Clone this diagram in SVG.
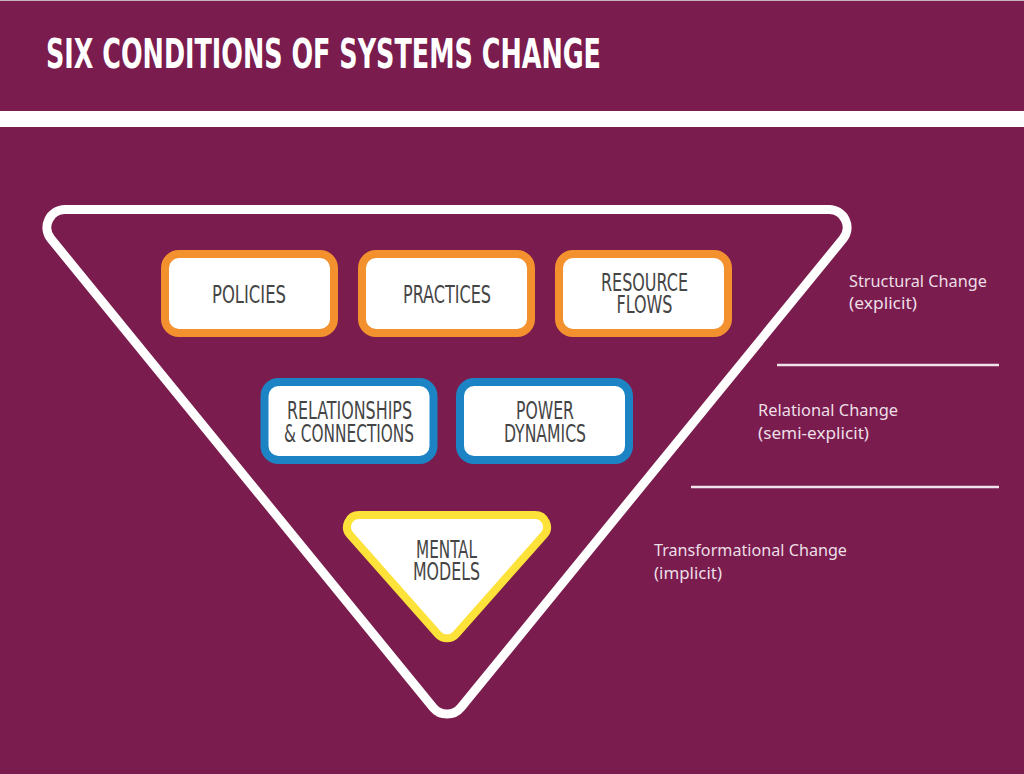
<svg xmlns="http://www.w3.org/2000/svg" width="1024" height="774" viewBox="0 0 1024 774">
<style>
.bg{fill:#7a1c4e}
.box{fill:#ffffff;stroke-width:8}
.orange{stroke:#f4912f}
.blue{stroke:#1c84c4}
.yellow{stroke:#fde23a;stroke-linejoin:round}
.lbl{font-family:"DejaVu Sans Condensed","DejaVu Sans","Liberation Sans",sans-serif;font-size:24px;fill:#454545;text-anchor:middle}
.side{font-family:"Noto Sans","Open Sans","Liberation Sans",sans-serif;font-size:17px;fill:#eddfe6}
.title{font-family:"DejaVu Sans Condensed","DejaVu Sans","Liberation Sans",sans-serif;font-size:41px;font-weight:bold;fill:#ffffff}
.rule{stroke:#efe4ea;stroke-width:2.5}
</style>
<rect class="bg" x="0" y="0" width="1024" height="774"/>
<rect x="0" y="0" width="1024" height="1" fill="#c8b3bf"/>
<rect x="0" y="111" width="1024" height="16" fill="#ffffff"/>
<text class="title" x="46" y="68" textLength="555" lengthAdjust="spacingAndGlyphs">SIX CONDITIONS OF SYSTEMS CHANGE</text>

<g id="frame">
<path d="M64.9,209.5 L829.1,209.5 A18,18 0 0 1 843,238.9 L461,707.4 A18,18 0 0 1 433,707.4 L51,238.9 A18,18 0 0 1 64.9,209.5 Z" fill="none" stroke="#ffffff" stroke-width="9"/>
</g>

<g id="policies">
<rect class="box orange" x="165" y="254" width="169" height="79" rx="14"/>
<text class="lbl" x="249" y="303" textLength="74" lengthAdjust="spacingAndGlyphs">POLICIES</text>
</g>
<g id="practices">
<rect class="box orange" x="362" y="254" width="169" height="79" rx="14"/>
<text class="lbl" x="447" y="303" textLength="88" lengthAdjust="spacingAndGlyphs">PRACTICES</text>
</g>
<g id="resource-flows">
<rect class="box orange" x="559" y="254" width="169" height="79" rx="14"/>
<text class="lbl" x="644.5" y="291" textLength="87" lengthAdjust="spacingAndGlyphs">RESOURCE</text>
<text class="lbl" x="644.5" y="313" textLength="56" lengthAdjust="spacingAndGlyphs">FLOWS</text>
</g>
<g id="relationships">
<rect class="box blue" x="264.5" y="382" width="169" height="78" rx="14"/>
<text class="lbl" x="349.5" y="419" textLength="125" lengthAdjust="spacingAndGlyphs">RELATIONSHIPS</text>
<text class="lbl" x="349" y="442" textLength="130" lengthAdjust="spacingAndGlyphs">&amp; CONNECTIONS</text>
</g>
<g id="power-dynamics">
<rect class="box blue" x="460" y="382" width="169" height="78" rx="14"/>
<text class="lbl" x="545" y="419" textLength="58" lengthAdjust="spacingAndGlyphs">POWER</text>
<text class="lbl" x="545" y="442" textLength="82" lengthAdjust="spacingAndGlyphs">DYNAMICS</text>
</g>
<g id="mental-models">
<path class="box yellow" d="M359,515 L535,515 A12,12 0 0 1 544,534.9 L456,634.3 A12,12 0 0 1 438,634.3 L350,534.9 A12,12 0 0 1 359,515 Z"/>
<text class="lbl" x="446.5" y="558" font-size="22" textLength="61" lengthAdjust="spacingAndGlyphs">MENTAL</text>
<text class="lbl" x="446.5" y="580" font-size="22" textLength="67" lengthAdjust="spacingAndGlyphs">MODELS</text>
</g>

<g id="levels">
<text class="side" x="849" y="287" textLength="138" lengthAdjust="spacingAndGlyphs">Structural Change</text>
<text class="side" x="849" y="309" textLength="68" lengthAdjust="spacingAndGlyphs">(explicit)</text>
<text class="side" x="758" y="416" textLength="140" lengthAdjust="spacingAndGlyphs">Relational Change</text>
<text class="side" x="758" y="439" textLength="111" lengthAdjust="spacingAndGlyphs">(semi-explicit)</text>
<text class="side" x="654" y="556" textLength="193" lengthAdjust="spacingAndGlyphs">Transformational Change</text>
<text class="side" x="654" y="579" textLength="68" lengthAdjust="spacingAndGlyphs">(implicit)</text>
</g>
<g id="connectors">
<line class="rule" x1="777" y1="365" x2="999" y2="365"/>
<line class="rule" x1="691" y1="487" x2="999" y2="487"/>
</g>
</svg>
